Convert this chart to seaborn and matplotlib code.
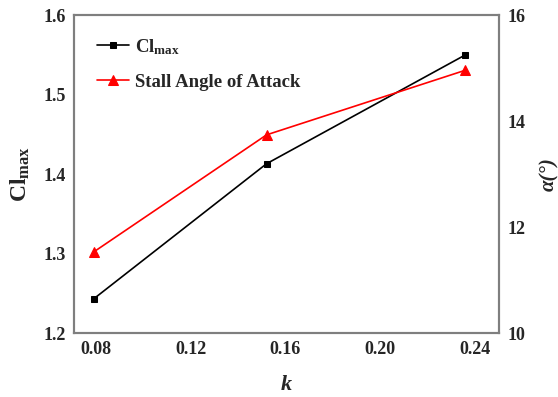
import matplotlib
matplotlib.use("Agg")
import matplotlib.pyplot as plt
import seaborn as sns
import pandas as pd

# Lift coefficient and stall angle versus reduced frequency k
k_values = [0.079, 0.152, 0.236]
cl_max = [1.243, 1.413, 1.550]
stall_angle = [11.53, 13.74, 14.96]
x_ticks = [0.08, 0.12, 0.16, 0.20, 0.24]
x_tick_labels = ["0.08", "0.12", "0.16", "0.20", "0.24"]
left_ticks = [1.2, 1.3, 1.4, 1.5, 1.6]
right_ticks = [10, 12, 14, 16]

sns.set_theme(style="white")
plt.rcParams["font.family"] = ["Liberation Serif", "DejaVu Serif"]
plt.rcParams["font.weight"] = "bold"
plt.rcParams["mathtext.fontset"] = "custom"
plt.rcParams["mathtext.rm"] = "Liberation Serif:bold"
plt.rcParams["mathtext.bf"] = "Liberation Serif:bold"
plt.rcParams["mathtext.it"] = "Liberation Serif:italic:bold"

df = pd.DataFrame({"k": k_values, "cl": cl_max, "alpha": stall_angle})

fig = plt.figure(figsize=(5.58, 3.97), dpi=100)
ax = fig.add_axes([0.1326, 0.161, 0.894 - 0.1326, 0.962 - 0.161])
ax2 = ax.twinx()

sns.lineplot(data=df, x="k", y="cl", ax=ax, color="black", marker="s",
             markersize=5, markeredgecolor="black", linewidth=1.2,
             label=r"Cl$_{\mathbf{max}}$", legend=False)
sns.lineplot(data=df, x="k", y="alpha", ax=ax2, color="red", marker="^",
             markersize=6.5, markeredgecolor="red", linewidth=1.2,
             label="Stall Angle of Attack", legend=False)

ax.set_xlim(0.0707, 0.2501)
ax.set_ylim(1.2, 1.6)
ax2.set_ylim(10, 16)
ax.set_xticks(x_ticks)
ax.set_xticklabels(x_tick_labels)
ax.set_yticks(left_ticks)
ax.set_yticklabels([f"{v:.1f}" for v in left_ticks])
ax2.set_yticks(right_ticks)
ax2.set_yticklabels([str(v) for v in right_ticks])

for a in (ax, ax2):
    a.tick_params(axis="both", length=0, labelsize=13, pad=6)
    for lab in a.get_xticklabels() + a.get_yticklabels():
        lab.set_fontweight("bold")
    for s in a.spines.values():
        s.set_color("#7f7f7f")
        s.set_linewidth(1.5)
    a.grid(False)

ax.set_xlabel("k", fontsize=16, fontweight="bold", fontstyle="italic", labelpad=12)
ax.set_ylabel(r"Cl$_{\mathbf{max}}$", fontsize=17, fontweight="bold", labelpad=8)
ax2.set_ylabel("α(°)", fontsize=15, fontweight="bold", fontstyle="italic", labelpad=10)

h1, l1 = ax.get_legend_handles_labels()
h2, l2 = ax2.get_legend_handles_labels()
leg = ax.legend(h1 + h2, l1 + l2, loc="upper left", frameon=False,
                prop={"family": "Liberation Serif", "weight": "bold", "size": 13.5},
                handlelength=1.7, handletextpad=0.35, labelspacing=0.9,
                bbox_to_anchor=(0.014, 0.984))

fig.savefig("out.png", dpi=100)
